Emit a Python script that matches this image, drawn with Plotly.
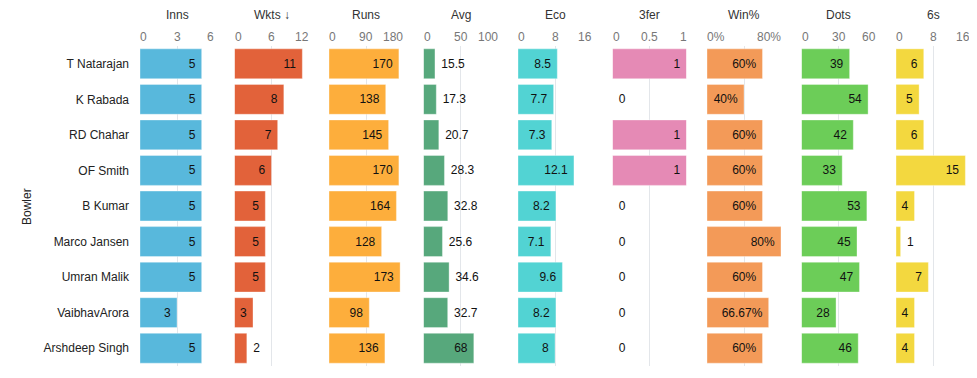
import plotly.graph_objects as go

bowlers = ["T Natarajan", "K Rabada", "RD Chahar", "OF Smith", "B Kumar",
           "Marco Jansen", "Umran Malik", "VaibhavArora", "Arshdeep Singh"]

inns = [5, 5, 5, 5, 5, 5, 5, 3, 5]
wkts = [11, 8, 7, 6, 5, 5, 5, 3, 2]
runs = [170, 138, 145, 170, 164, 128, 173, 98, 136]
avg = [15.5, 17.3, 20.7, 28.3, 32.8, 25.6, 34.6, 32.7, 68]
eco = [8.5, 7.7, 7.3, 12.1, 8.2, 7.1, 9.6, 8.2, 8]
threefer = [1, 0, 1, 1, 0, 0, 0, 0, 0]
winpct = [0.60, 0.40, 0.60, 0.60, 0.60, 0.80, 0.60, 0.6667, 0.60]
dots = [39, 54, 42, 33, 53, 45, 47, 28, 46]
sixes = [6, 5, 6, 15, 4, 1, 7, 4, 4]

titles = ["Inns", "Wkts ↓", "Runs", "Avg", "Eco", "3fer", "Win%", "Dots", "6s"]
tickvals = [[0, 3, 6], [0, 6, 12], [0, 90, 180], [0, 50, 100], [0, 8, 16],
            [0, 0.5, 1], [0, 0.4, 0.8], [0, 30, 60], [0, 8, 16]]
ticktexts = [["0", "3", "6"], ["0", "6", "12"], ["0", "90", "180"], ["0", "50", "100"],
             ["0", "8", "16"], ["0", "0.5", "1"], ["0%", "", "80%"], ["0", "30", "60"],
             ["0", "8", "16"]]
colors = ["#58b8dc", "#e2623a", "#fdae3c", "#57a87c", "#52d3d3",
          "#e58ab5", "#f39a58", "#6ccd58", "#f3d83f"]

series = [inns, wkts, runs, avg, eco, threefer, winpct, dots, sixes]


def fmt(v, i):
    if i == 6:
        s = f"{v*100:.2f}".rstrip("0").rstrip(".")
        return s + "%"
    if isinstance(v, float):
        return f"{v:g}"
    return str(v)


def text_w(s):
    w = 0
    for ch in s:
        if ch == ".":
            w += 3.4
        elif ch == "%":
            w += 10.7
        else:
            w += 6.7
    return w


# page body has an 8px margin, so the figure is sized to fit the window
W, H = 969, 370
ml, mr, mt, mb = 132, 7, 38, 12
pw = W - ml - mr
ph = H - mt - mb
panel_w = 74
step = 94.5
NB = "\u00a0"

fig = go.Figure()
FONT = "Liberation Sans, Arial, sans-serif"

for i, vals in enumerate(series):
    ax = "" if i == 0 else str(i + 1)
    labels = [fmt(v, i) for v in vals]
    xmax = tickvals[i][-1]
    positions, shown = [], []
    for v, s in zip(vals, labels):
        bar_px = v / xmax * panel_w
        if text_w(s) + 8 <= bar_px:
            positions.append("inside")
            shown.append(s + NB)
        else:
            positions.append("outside")
            shown.append(NB + s)
    fig.add_trace(go.Bar(
        y=bowlers, x=vals, orientation="h",
        marker=dict(color=colors[i], line=dict(color="rgba(255,255,255,0.35)", width=1)),
        text=shown,
        textposition=positions,
        insidetextanchor="end",
        insidetextfont=dict(color="#111", size=12, family=FONT),
        outsidetextfont=dict(color="#111", size=12, family=FONT),
        textangle=0,
        constraintext="none",
        cliponaxis=False,
        xaxis="x" + ax, yaxis="y",
        showlegend=False,
        hoverinfo="skip",
    ))
    x0 = i * step / pw
    x1 = min(1.0, (i * step + panel_w) / pw)
    fig.layout["xaxis" + ax] = dict(
        domain=[x0, x1],
        range=[0, xmax],
        side="top",
        anchor="y",
        tickvals=tickvals[i],
        showticklabels=False,
        showgrid=True, gridcolor="#e3e6ea", gridwidth=1,
        zeroline=False, showline=False, ticks="",
        automargin=False,
        fixedrange=True,
    )
    # tick labels: first left-aligned, last right-aligned, middle centred
    n = len(tickvals[i])
    for k, (tv, tt) in enumerate(zip(tickvals[i], ticktexts[i])):
        if not tt:
            continue
        if k == 0:
            anchor, sh = "left", -2
        elif k == n - 1:
            anchor, sh = "right", 2
        else:
            anchor, sh = "center", 0
        fig.add_annotation(
            text=tt, xref="x" + ax, yref="paper",
            x=tv, y=1 + 9 / ph, xshift=sh,
            xanchor=anchor, yanchor="middle", showarrow=False,
            font=dict(size=12, color="#777", family=FONT),
        )
    fig.add_annotation(
        text=titles[i], xref="paper", yref="paper",
        x=(x0 + x1) / 2, y=1 + 31 / ph,
        xanchor="center", yanchor="middle", showarrow=False,
        font=dict(size=12, color="#333", family=FONT),
    )

fig.update_layout(
    width=W, height=H,
    margin=dict(l=ml, r=mr, t=mt, b=mb, autoexpand=False),
    paper_bgcolor="white", plot_bgcolor="white",
    bargap=0.16,
    font=dict(family=FONT),
    yaxis=dict(
        autorange="reversed",
        showgrid=False, zeroline=False, showline=False, ticks="",
        tickfont=dict(size=12, color="#222", family=FONT),
        ticklabelstandoff=10,
        automargin=False,
    ),
)

fig.add_annotation(
    text="Bowler", xref="paper", yref="paper",
    x=-113 / pw, y=0.5, textangle=-90,
    xanchor="center", yanchor="middle", showarrow=False,
    font=dict(size=12, color="#222", family=FONT),
)

fig.write_html("out.html")
